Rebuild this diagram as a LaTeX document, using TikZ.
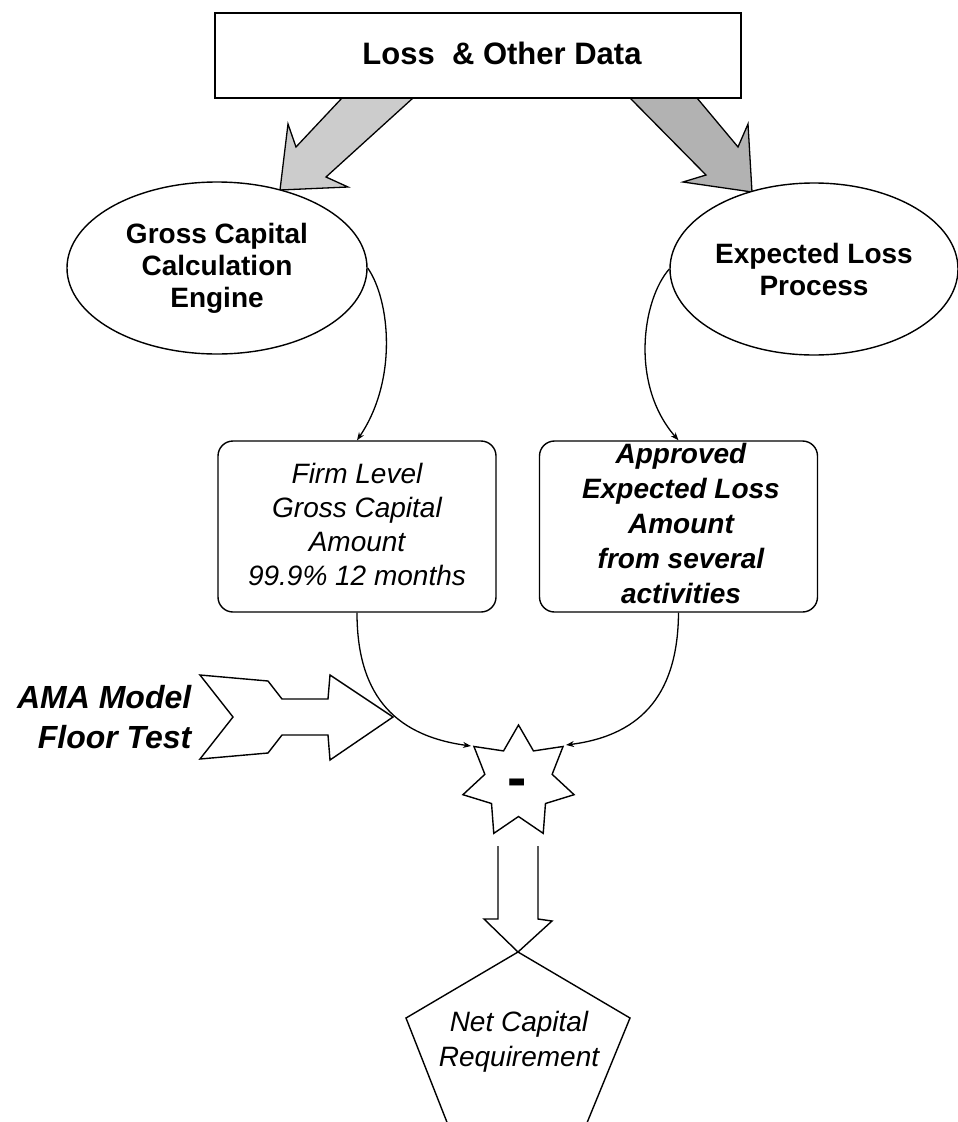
\documentclass[tikz,border=0pt]{standalone}
\usepackage{fontspec}
\setmainfont{Liberation Sans}
\usetikzlibrary{arrows.meta,shapes.geometric}
\begin{document}
\begin{tikzpicture}[x=1pt,y=-1pt,line width=1.4pt,line join=miter,
  titlebox/.style={draw,rectangle,inner sep=0pt,minimum width=526pt,minimum height=85pt},
  bigarrowL/.style={draw,fill=black!20,line width=1.3pt},
  bigarrowR/.style={draw,fill=black!30,line width=1.3pt},
  ell/.style={draw,fill=white,ellipse,inner sep=0pt,align=center,
    font=\fontsize{28}{32}\selectfont\bfseries},
  rbox/.style={draw,rectangle,rounded corners=15pt,inner sep=0pt,minimum width=278pt,minimum height=171pt},
  boxtxt/.style={inner sep=0pt,align=center,anchor=north},
  conn/.style={line width=1.3pt,-{Stealth[length=8pt,width=6pt]}},
  outline/.style={draw,line width=1.4pt}
]
\useasboundingbox (0,0) rectangle (958,1122);
\clip (0,0) rectangle (958,1122);

% gray block arrows from the data box
\filldraw[bigarrowL] (342,98) -- (413,98) -- (326,177) -- (348,187) -- (280,190) -- (288,124) -- (296,147) -- cycle;
\filldraw[bigarrowR] (630,98) -- (697,98) -- (738,147) -- (748,124) -- (752,192) -- (683,182) -- (706,175) -- cycle;

% title box
\node[titlebox] (data) at (478,55.5) {};
\node[inner sep=0pt,anchor=base,font=\fontsize{31}{36}\selectfont\bfseries] (datatext) at (502,64) {Loss\ \ \& Other Data};

% ellipses
\node[ell,minimum width=300pt,minimum height=172pt] (gce) at (217,268) {Gross Capital\\Calculation\\Engine};
\node[ell,minimum width=288pt,minimum height=172pt] (elp) at (814,269) {Expected Loss\\Process};

% rounded boxes
\node[rbox] (fl) at (357,526.5) {};
\node[boxtxt,font=\fontsize{28}{34}\selectfont\itshape] (fltext) at (357,463) {Firm Level\\Gross Capital\\Amount\\99.9\% 12 months};
\node[rbox] (ab) at (678.5,526.5) {};
\node[boxtxt,font=\fontsize{28}{35}\selectfont\bfseries\itshape] (abtext) at (681,443) {Approved\\Expected Loss\\Amount\\from several\\activities};

% connectors ellipse -> box
\draw[conn] (gce.east) .. controls (390,300) and (398,380) .. (fl.north);
\draw[conn] (elp.west) .. controls (642,300) and (630,385) .. (ab.north);

% star
\coordinate (sc) at (518.5,782);
\draw[outline] ([shift={(90:57pt)}]sc)
  \foreach \a/\r in {115.71/34.5,141.43/57,167.14/34.5,192.86/57,218.57/34.5,244.29/57,270/34.5,295.71/57,321.43/34.5,347.14/57,12.86/34.5,38.57/57,64.29/34.5}
  { -- ([shift={(\a:\r pt)}]sc) } -- cycle;
\node[inner sep=0pt,font=\fontsize{58}{58}\selectfont\bfseries] (minus) at (517,788) {-};
\coordinate (sul) at (471,746);
\coordinate (sur) at (566,745);

% connectors box -> star
\draw[conn] (fl.south) .. controls (357,690) and (390,735) .. (sul);
\draw[conn] (ab.south) .. controls (678,690) and (645,735) .. (sur);

% AMA arrow
\draw[outline] (200,675) -- (268,681) -- (282,699) -- (328,699) -- (330,675) -- (393,717) -- (330,760) -- (328,735) -- (282,735) -- (268,753) -- (200,759) -- (233,717) -- cycle;
\node[inner sep=0pt,anchor=north east,align=right,font=\fontsize{32}{40}\selectfont\bfseries\itshape] (ama) at (192,685) {AMA Model\\Floor Test};

% double block arrow down
\draw[outline] (498,846) -- (498,919) -- (484,919) -- (518,952) -- (552,921) -- (538,919) -- (538,846);

% pentagon
\coordinate (ptop) at (518,952);
\draw[outline] (452,1135) -- (406,1018) -- (ptop) -- (630,1018) -- (582,1135) -- cycle;
\node[boxtxt,font=\fontsize{28}{35}\selectfont\itshape] (net) at (519,1010) {Net Capital\\Requirement};
\end{tikzpicture}
\end{document}
